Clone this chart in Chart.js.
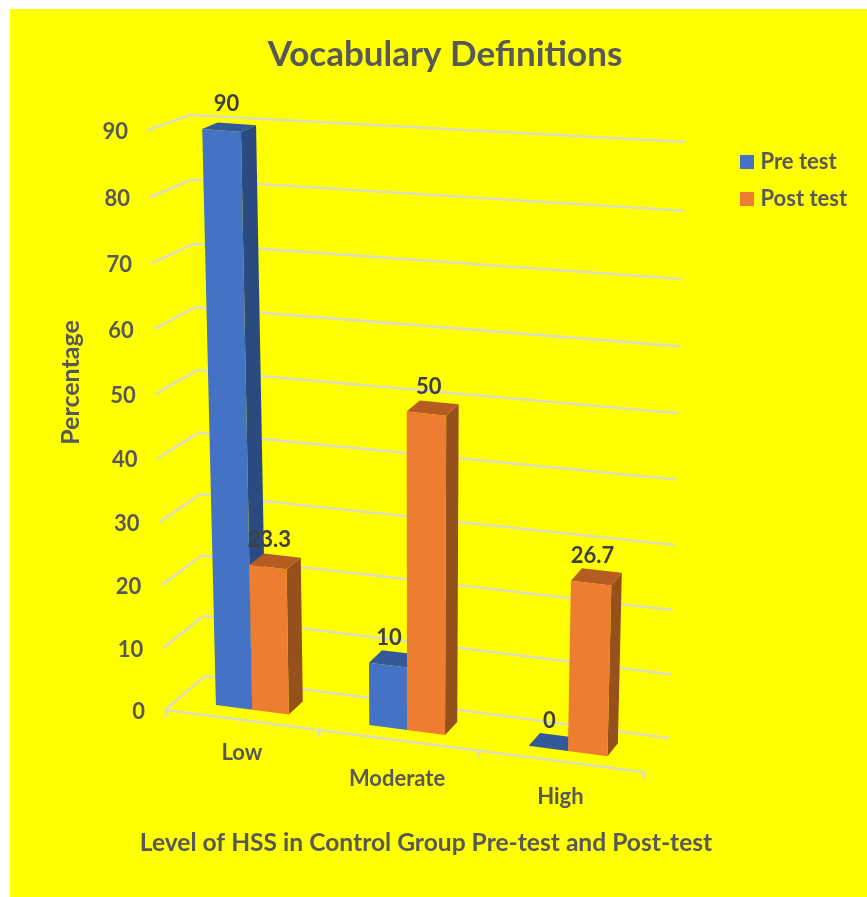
<!DOCTYPE html>
<html><head><meta charset="utf-8">
<script src="https://cdn.jsdelivr.net/npm/chart.js@4"></script>
<style>html,body{margin:0;padding:0;background:#fff}canvas{display:block}</style>
</head><body><canvas id="c" width="867" height="897"></canvas>
<script>
const categories = ["Low", "Moderate", "High"];
const preTest = [90, 10, 0];
const postTest = [23.3, 50, 26.7];
const yTicks = [0, 10, 20, 30, 40, 50, 60, 70, 80, 90];

const FONT = "Lato, Carlito, sans-serif";
const TEXT = "#585858", LABEL = "#404040", GRID = "#DEDEBC";
const BLUE = {front:"#4472C4", side:"#2A4A80", top:"#33599B"};
const ORANGE = {front:"#ED7D31", side:"#96501C", top:"#B55C22"};
const shade = {"#4472C4":BLUE, "#ED7D31":ORANGE};

// perspective box: u along categories, v height, w depth
const FL={b:[165,710],t:[148,130]}, FR={b:[643,772],t:[659,178]};
const BL={b:[205,676],t:[190,115]}, BR={b:[669,738],t:[686,142]};
const warpU=u=>u/(1+0.06*(1-u)), warpV=v=>v/(1+0.044*(1-v));
const mix=(a,b,t)=>[a[0]+(b[0]-a[0])*t,a[1]+(b[1]-a[1])*t];
function project(u,v,w){
  const uu=warpU(u), vv=warpV(v);
  const front=mix(mix(FL.b,FL.t,vv),mix(FR.b,FR.t,vv),uu);
  const back=mix(mix(BL.b,BL.t,vv),mix(BR.b,BR.t,vv),uu);
  return mix(front,back,w);
}
const W0=0.30, W1=0.68;
let theChart=null;
const toU=px=>(px-theChart.chartArea.left)/theChart.chartArea.width;
const toV=py=>{const y=theChart.scales.y;return (y.getPixelForValue(0)-py)/(y.getPixelForValue(0)-y.getPixelForValue(90));};
function poly(ctx,pts,fill){ctx.beginPath();pts.forEach((p,i)=>i?ctx.lineTo(p[0],p[1]):ctx.moveTo(p[0],p[1]));ctx.closePath();ctx.fillStyle=fill;ctx.fill();}

Chart.BarElement.prototype.draw=function(ctx){
  const col=this.options.backgroundColor, s=shade[col]||{front:col,side:col,top:col};
  const u0=toU(this.x-this.width/2), u1=toU(this.x+this.width/2), vt=toV(this.y);
  const P=(u,v,w)=>project(u,v,w);
  ctx.save();
  poly(ctx,[P(u1,0,W0),P(u1,0,W1),P(u1,vt,W1),P(u1,vt,W0)],s.side);
  poly(ctx,[P(u0,vt,W0),P(u1,vt,W0),P(u1,vt,W1),P(u0,vt,W1)],s.top);
  poly(ctx,[P(u0,0,W0),P(u1,0,W0),P(u1,vt,W0),P(u0,vt,W0)],s.front);
  ctx.restore();
};

function line(ctx,a,b){ctx.beginPath();ctx.moveTo(a[0],a[1]);ctx.lineTo(b[0],b[1]);ctx.stroke();}

const scene={
  id:"scene",
  beforeDraw(chart){const c=chart.ctx;c.save();c.fillStyle="#FFFF00";c.fillRect(10,9,857,888);c.restore();},
  afterLayout(chart){
    theChart=chart;
    const t=chart.titleBlock, dx=445-(t.left+t.right)/2; t.left+=dx;t.right+=dx;
    const l=chart.legend; l.left=729.5;l.top=135.5;l.right=867;l.bottom=260;
    const ys=chart.scales.y, xs=chart.scales.x;
    ys.getLabelItems(chart.chartArea).forEach((it,i)=>{
      const p=project(0,toV(ys.getPixelForTick(i)),0);
      it.options.textAlign="right";
      it.options.translation=[p[0]-20,p[1]+2];
    });
    const nudge=[[1,-2],[0,4],[1,1]];
    xs.getLabelItems(chart.chartArea).forEach((it,i)=>{
      const p=project(toU(xs.getPixelForTick(i)),0,0);
      it.textOffset=0;
      it.options.translation=[p[0]+nudge[i][0],p[1]+35+nudge[i][1]];
    });
  },
  beforeDatasetsDraw(chart){
    const c=chart.ctx, ys=chart.scales.y;
    c.save();c.strokeStyle=GRID;c.lineWidth=2.6;c.lineCap="butt";
    ys.ticks.forEach((t,i)=>{
      const v=toV(ys.getPixelForTick(i));
      line(c,project(0,v,0),project(0,v,1));
      line(c,project(0,v,1),project(1,v,1));
    });
    line(c,project(0,0,0),project(1,0,0));
    const n=categories.length;
    for(let i=0;i<=n;i++){const p=project(i/n,0,0);line(c,[p[0]+1,p[1]-1],[p[0]+1,p[1]+7]);}
    c.restore();
    // the series in front is painted after the one behind it
    chart.getDatasetMeta(0).data.forEach(b=>b.draw(chart.ctx));
  },
  beforeDatasetDraw(chart,args){ if(args.index===0) return false; },
  afterDatasetsDraw(chart){
    const c=chart.ctx;
    c.save();c.font="bold 22px "+FONT;c.fillStyle=LABEL;c.textAlign="center";c.textBaseline="middle";
    chart.data.datasets.forEach((ds,di)=>{
      chart.getDatasetMeta(di).data.forEach((bar,i)=>{
        const v=toV(bar.y), p=project(toU(bar.x),v,W0);
        c.fillText(String(ds.data[i]),p[0]+1+4*v*v,p[1]-27);
      });
    });
    c.restore();
  }
};

function swatch(color){const s=document.createElement("canvas");s.width=14;s.height=14;const g=s.getContext("2d");g.fillStyle=color;g.fillRect(0,0,14,14);return s;}

new Chart(document.getElementById("c"),{
  type:"bar",
  data:{labels:categories,datasets:[
    {label:"Pre test",data:preTest,backgroundColor:BLUE.front,clip:false},
    {label:"Post test",data:postTest,backgroundColor:ORANGE.front,clip:false}
  ]},
  plugins:[scene],
  options:{
    responsive:false,animation:false,
    layout:{padding:{left:56,right:145,top:0,bottom:0}},
    datasets:{bar:{categoryPercentage:0.48,barPercentage:1}},
    plugins:{
      tooltip:{enabled:false},
      title:{display:true,text:"Vocabulary Definitions",color:TEXT,
        font:{family:FONT,size:35,weight:"bold"},padding:{top:34,bottom:0}},
      legend:{display:true,position:"chartArea",align:"start",
        labels:{color:TEXT,font:{family:FONT,size:22,weight:"bold"},padding:15,usePointStyle:true,pointStyleWidth:5,
          generateLabels(ch){return Chart.defaults.plugins.legend.labels.generateLabels(ch).map(l=>{
            l.pointStyle=swatch(ch.data.datasets[l.datasetIndex].backgroundColor);return l;});}}}
    },
    scales:{
      x:{grid:{display:false},border:{display:false},
        ticks:{color:TEXT,font:{family:FONT,size:22,weight:"bold"},maxRotation:0,autoSkip:false},
        title:{display:true,text:"Level of HSS in Control Group Pre-test and Post-test",color:TEXT,
          font:{family:FONT,size:24.6,weight:"bold"},padding:{top:0,bottom:39}},
        afterFit(s){s.height=208;}},
      y:{min:0,max:90,grid:{display:false},border:{display:false},
        afterBuildTicks(s){s.ticks=yTicks.map(v=>({value:v}));},
        ticks:{color:TEXT,font:{family:FONT,size:22,weight:"bold"},mirror:true},
        title:{display:true,text:"Percentage",color:TEXT,
          font:{family:FONT,size:25,weight:"bold"},padding:{top:0,bottom:0}},
        afterFit(s){s.width=74;}}
    }
  }
});
</script></body></html>
